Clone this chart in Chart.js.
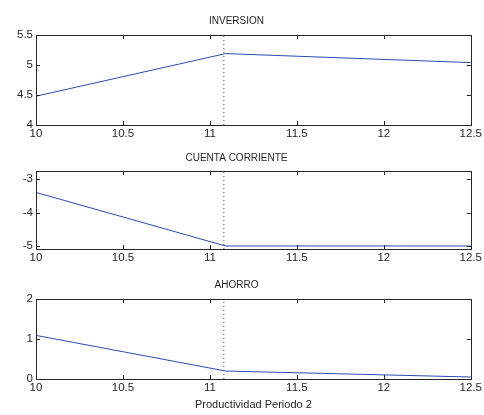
<!DOCTYPE html>
<html>
<head>
<meta charset="utf-8">
<script src="https://cdn.jsdelivr.net/npm/chart.js@4"></script>
<style>
  body { margin: 0; background: #fff; }
  #wrap { position: relative; width: 484px; height: 415px; }
  canvas { position: absolute; left: 0; }
</style>
</head>
<body>
<div id="wrap">
  <canvas id="c1" width="484" height="140" style="top:0px"></canvas>
  <canvas id="c2" width="484" height="125" style="top:140px"></canvas>
  <canvas id="c3" width="484" height="150" style="top:265px"></canvas>
</div>
<script>
// values
const xVals = [10, 11.09, 12.5];
const inversion = [4.48, 5.19, 5.04];
const cuenta = [-3.40, -5.0, -5.0];
const ahorro = [1.09, 0.2, 0.05];

const xTicks = [10, 10.5, 11, 11.5, 12, 12.5];
const invTicks = [4, 4.5, 5, 5.5];
const cuentaTicks = [-5, -4, -3];
const ahorroTicks = [0, 1, 2];

const markerX = 11.08;   // dotted vertical line
const xLabel = 'Productividad Periodo 2';

const LINE_BLUE = '#2b4bb0';
const TEXT = '#262626';

// box round the plot area + inward ticks, matlab style
const boxPlugin = {
  id: 'box',
  afterDraw(chart) {
    const ctx = chart.ctx;
    const a = chart.chartArea;
    const xs = chart.scales.x, ys = chart.scales.y;
    ctx.save();
    ctx.strokeStyle = '#262626';
    ctx.lineWidth = 1;
    ctx.strokeRect(Math.round(a.left) + 0.5, Math.round(a.top) + 0.5,
      Math.round(a.right - a.left), Math.round(a.bottom - a.top));
    ctx.beginPath();
    xs.ticks.forEach(t => {
      const px = Math.round(xs.getPixelForValue(t.value)) + 0.5;
      ctx.moveTo(px, a.bottom); ctx.lineTo(px, a.bottom - 4);
      ctx.moveTo(px, a.top); ctx.lineTo(px, a.top + 4);
    });
    ys.ticks.forEach(t => {
      const py = Math.round(ys.getPixelForValue(t.value)) + 0.5;
      ctx.moveTo(a.left, py); ctx.lineTo(a.left + 4, py);
      ctx.moveTo(a.right, py); ctx.lineTo(a.right - 4, py);
    });
    ctx.stroke();
    ctx.restore();
  }
};

const plainNum = v => String(v);

function makeChart(id, title, yVals, yTicks, ymin, ymax, opts) {
  let pts = [];
  for (let i = 0; i < xVals.length; i++) {
    pts.push({x: xVals[i], y: yVals[i]});
  }
  const marker = [{x: markerX, y: ymin}, {x: markerX, y: ymax}];
  const config = {
    type: 'scatter',
    data: {
      datasets: [
        {data: pts, showLine: true, borderColor: LINE_BLUE, borderWidth: 1, pointRadius: 0},
        {data: marker, showLine: true, borderColor: '#555', borderWidth: 1, borderDash: [1, 3], pointRadius: 0}
      ]
    },
    options: {
      responsive: false,
      animation: false,
      layout: { padding: { left: 0, right: 11, top: 0, bottom: 0 } },
      plugins: {
        legend: { display: false },
        tooltip: { enabled: false },
        title: {
          display: true,
          text: title,
          color: TEXT,
          font: { family: 'Liberation Sans', size: 10, weight: 'normal' },
          padding: opts.titlePad
        }
      },
      scales: {
        x: {
          type: 'linear', min: 10, max: 12.5,
          afterBuildTicks: s => { s.ticks = xTicks.map(v => ({value: v})); },
          afterFit: s => { s.height = opts.xHeight; },
          grid: { display: false, drawTicks: false },
          border: { display: false },
          ticks: { color: TEXT, font: { family: 'Liberation Sans', size: 11.5 }, padding: 2,
                   maxRotation: 0, autoSkip: false, callback: plainNum },
          title: opts.xTitle ? {
            display: true, text: opts.xTitle, color: TEXT,
            font: { family: 'Liberation Sans', size: 11 }, padding: { top: 0, bottom: 3.4 }
          } : { display: false }
        },
        y: {
          type: 'linear', min: ymin, max: ymax,
          afterBuildTicks: s => { s.ticks = yTicks.map(v => ({value: v})); },
          afterFit: s => { s.width = 36; },
          grid: { display: false, drawTicks: false },
          border: { display: false },
          ticks: { color: TEXT, font: { family: 'Liberation Sans', size: 11.5 }, padding: 3,
                   autoSkip: false, callback: plainNum }
        }
      }
    },
    plugins: [boxPlugin]
  };
  return new Chart(document.getElementById(id), config);
}

makeChart('c1', 'INVERSION', inversion, invTicks, 4, 5.5,
  { titlePad: { top: 15, bottom: 8 }, xHeight: 15 });
makeChart('c2', 'CUENTA CORRIENTE', cuenta, cuentaTicks, -5.09, -2.76,
  { titlePad: { top: 12, bottom: 7 }, xHeight: 16 });
makeChart('c3', 'AHORRO', ahorro, ahorroTicks, 0, 2,
  { titlePad: { top: 14, bottom: 8 }, xHeight: 36, xTitle: xLabel });
</script>
</body>
</html>
